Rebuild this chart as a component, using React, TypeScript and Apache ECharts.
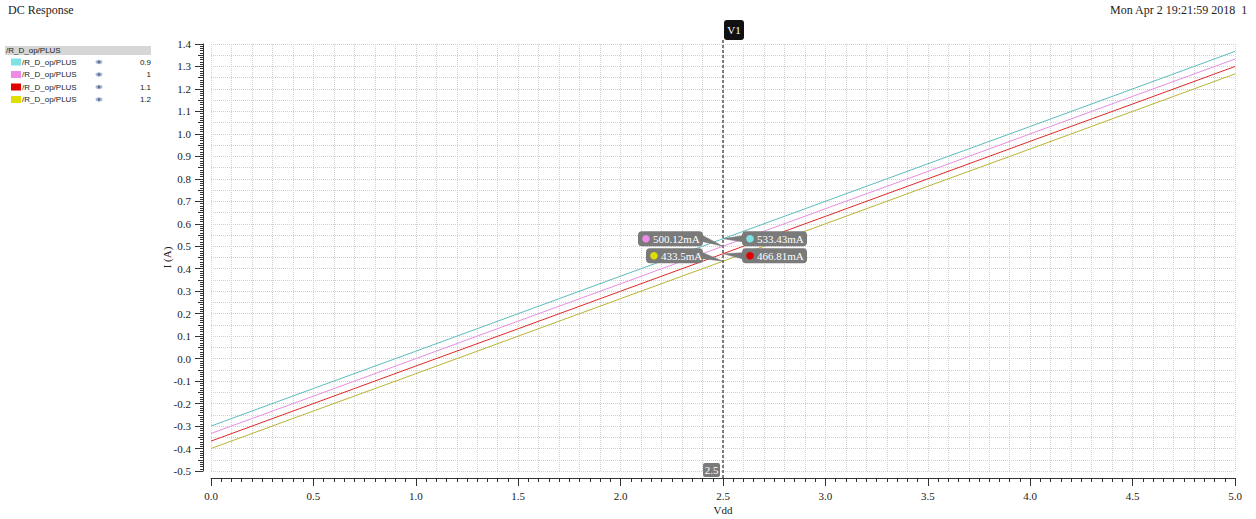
import React, { useEffect, useRef } from "react";
import * as echarts from "echarts";

const vdd = [0, 0.5, 1.0, 1.5, 2.0, 2.5, 3.0, 3.5, 4.0, 4.5, 5.0];
const i09 = [-0.300, -0.133, 0.033, 0.200, 0.367, 0.5334, 0.700, 0.867, 1.033, 1.200, 1.367];
const i10 = [-0.333, -0.167, 0.000, 0.167, 0.333, 0.5001, 0.667, 0.833, 1.000, 1.167, 1.333];
const i11 = [-0.367, -0.200, -0.033, 0.133, 0.300, 0.4668, 0.633, 0.800, 0.967, 1.133, 1.300];
const i12 = [-0.400, -0.233, -0.067, 0.100, 0.267, 0.4335, 0.600, 0.767, 0.933, 1.100, 1.267];

const legendParams = ["0.9", "1", "1.1", "1.2"];
const seriesName = "/R_D_op/PLUS";
const lineColors = ["#5cbcbc", "#e68ee2", "#e02828", "#b8b432"];
const swatchColors = ["#7fe3e3", "#ee8ae8", "#e00000", "#dede00"];
const cursorX = 2.5;
const cursorLabels = ["533.43mA", "500.12mA", "466.81mA", "433.5mA"];
const cursorValues = [0.53343, 0.50012, 0.46681, 0.4335];

const SERIF = "'Liberation Serif', 'DejaVu Serif', serif";
const SANS = "'Liberation Sans', Arial, sans-serif";

export default function App() {
  const ref = useRef<HTMLDivElement>(null);
  useEffect(() => {
    if (!ref.current) return;
    const chart = echarts.init(ref.current, null, { renderer: "svg" });
    const allSeries = [i09, i10, i11, i12];
    const option: any = {
      animation: false,
      backgroundColor: "#ffffff",
      grid: { left: 211, right: 21, top: 44, bottom: 48, containLabel: false, outerBoundsMode: "none" },
      xAxis: [
        {
          type: "value", min: 0, max: 5, interval: 0.5, offset: 7, position: "bottom",
          name: "Vdd", nameLocation: "middle", nameGap: 26, nameMoveOverlap: false,
          nameTextStyle: { fontFamily: SERIF, fontSize: 11, color: "#222" },
          axisLine: { show: true, onZero: false, lineStyle: { color: "#333", width: 1 } },
          axisTick: { show: true, length: 8, lineStyle: { color: "#333" } },
          minorTick: { show: true, splitNumber: 10, length: 4, lineStyle: { color: "#333" } },
          axisLabel: { fontFamily: SERIF, fontSize: 11, color: "#222", margin: 12, formatter: (v: number) => v.toFixed(1) },
          splitLine: { show: false },
        },
        {
          type: "value", min: 0, max: 5, interval: 0.1, position: "bottom",
          axisLine: { show: false, onZero: false }, axisTick: { show: false }, axisLabel: { show: false },
          splitLine: { show: true, lineStyle: { color: "#d0d0d0", type: "dotted", width: 1 } },
        },
      ],
      yAxis: [
        {
          type: "value", min: -0.5, max: 1.4, interval: 0.1, offset: 8, position: "left",
          name: "I (A)", nameLocation: "middle", nameGap: 31, nameMoveOverlap: false,
          nameTextStyle: { fontFamily: SERIF, fontSize: 11, color: "#222" },
          axisLine: { show: true, onZero: false, lineStyle: { color: "#333", width: 1 } },
          axisTick: { show: true, length: 8, lineStyle: { color: "#333" } },
          minorTick: { show: true, splitNumber: 10, length: 3, lineStyle: { color: "#333" } },
          axisLabel: { fontFamily: SERIF, fontSize: 11, color: "#222", margin: 12, formatter: (v: number) => v.toFixed(1) },
          splitLine: { show: false },
        },
        {
          type: "value", min: -0.5, max: 1.4, interval: 0.05, offset: 8, position: "left",
          axisLine: { show: false, onZero: false },
          axisTick: { show: true, length: 5, lineStyle: { color: "#333" } },
          axisLabel: { show: false },
          splitLine: { show: true, lineStyle: { color: "#d0d0d0", type: "dotted", width: 1 } },
        },
      ],
      series: allSeries.map((s, k) => ({
        type: "line",
        name: legendParams[k],
        xAxisIndex: 0, yAxisIndex: 0,
        data: vdd.map((x, j) => [x, s[j]]),
        showSymbol: false,
        lineStyle: { color: lineColors[k], width: 1 },
        z: 3,
      })),
    };
    chart.setOption(option);

    const px = (x: number, y: number) =>
      chart.convertToPixel({ xAxisIndex: 0, yAxisIndex: 0 }, [x, y]) as number[];
    const bot = px(0, -0.5);
    const cx = px(cursorX, 0)[0];
    const axisY = bot[1] + 7;

    const g: any[] = [];
    g.push({ type: "text", left: 8, top: 4, style: { text: "DC Response", font: `12px ${SERIF}`, fill: "#222" } });
    g.push({ type: "text", right: 8, top: 4, style: { text: "Mon Apr 2 19:21:59 2018  1", font: `12px ${SERIF}`, fill: "#222" } });

    g.push({ type: "rect", shape: { x: 5, y: 46, width: 146, height: 9 }, style: { fill: "#d6d6d6" } });
    g.push({ type: "text", x: 6, y: 50.5, style: { text: seriesName, font: `8px ${SANS}`, fill: "#222", verticalAlign: "middle" } });
    legendParams.forEach((p, k) => {
      const yc = 62 + k * 12.5;
      g.push({ type: "rect", shape: { x: 11, y: yc - 3.5, width: 10, height: 7 }, style: { fill: swatchColors[k] } });
      g.push({ type: "text", x: 22, y: yc, style: { text: seriesName, font: `8px ${SANS}`, fill: "#222", verticalAlign: "middle" } });
      g.push({ type: "ellipse", shape: { cx: 99, cy: yc, rx: 3.5, ry: 2.2 }, style: { fill: "#aab8d0" } });
      g.push({ type: "circle", shape: { cx: 99, cy: yc, r: 1.3 }, style: { fill: "#5a6f96" } });
      g.push({ type: "text", x: 151, y: yc, style: { text: p, font: `8px ${SANS}`, fill: "#222", align: "right", verticalAlign: "middle" } });
    });

    g.push({ type: "line", shape: { x1: cx, y1: 40, x2: cx, y2: axisY }, style: { stroke: "#555", lineWidth: 1.5, lineDash: [3, 2] }, z: 10 });
    g.push({ type: "rect", shape: { x: cx + 1, y: 20, width: 20, height: 20, r: 3 }, style: { fill: "#111" }, z: 11 });
    g.push({ type: "text", x: cx + 11, y: 30, style: { text: "V1", font: `11px ${SERIF}`, fill: "#fff", align: "center", verticalAlign: "middle" }, z: 12 });
    g.push({ type: "rect", shape: { x: cx - 20, y: bot[1] - 8, width: 17, height: 14, r: 2 }, style: { fill: "#7a7a7a" }, z: 11 });
    g.push({ type: "text", x: cx - 11.5, y: bot[1] - 1, style: { text: String(cursorX), font: `11px ${SERIF}`, fill: "#fff", align: "center", verticalAlign: "middle" }, z: 12 });

    const pts = cursorValues.map((v) => px(cursorX, v));
    const row1 = pts[0][1];
    const row2 = row1 + 17;
    const boxes = [
      { side: 1, yc: row1, w: 65 },
      { side: -1, yc: row1, w: 65 },
      { side: 1, yc: row2, w: 65 },
      { side: -1, yc: row2, w: 57 },
    ];
    boxes.forEach((b, k) => {
      const bx = b.side > 0 ? cx + 19 : cx - 20 - b.w;
      const edge = b.side > 0 ? bx : bx + b.w;
      g.push({
        type: "polygon",
        shape: { points: [[edge, b.yc - 3], [edge, b.yc + 3], [cx, pts[k][1]]] },
        style: { fill: "#7a7a7a", stroke: "#7a7a7a", lineWidth: 0.5 }, z: 13,
      });
      g.push({ type: "rect", shape: { x: bx, y: b.yc - 7.5, width: b.w, height: 15, r: 4 }, style: { fill: "#7a7a7a" }, z: 14 });
      g.push({ type: "circle", shape: { cx: bx + 8, cy: b.yc, r: 3.8 }, style: { fill: swatchColors[k] }, z: 15 });
      g.push({ type: "text", x: bx + 15, y: b.yc, style: { text: cursorLabels[k], font: `11px ${SERIF}`, fill: "#fff", verticalAlign: "middle" }, z: 15 });
    });

    chart.setOption({ graphic: { elements: g } });
    return () => chart.dispose();
  }, []);
  return <div ref={ref} style={{ position: "fixed", left: 0, top: 0, width: 1256, height: 519 }} />;
}
